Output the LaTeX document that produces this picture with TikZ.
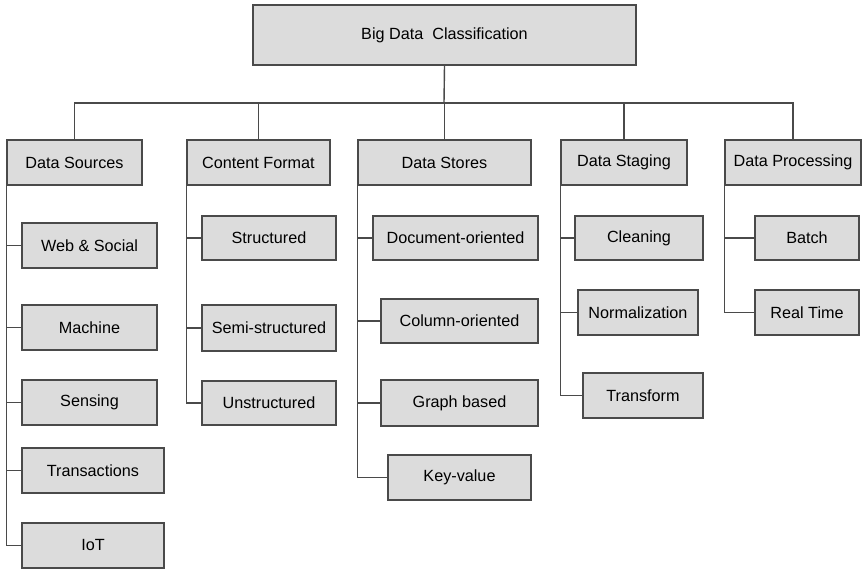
\documentclass[tikz,border=0pt]{standalone}
\usepackage{fontspec}
\setmainfont{Liberation Sans}
\usetikzlibrary{shadows}
\definecolor{boxfill}{HTML}{DCDCDC}
\definecolor{linec}{HTML}{4A4A4A}
\tikzset{
  bx/.style={draw=linec, line width=1.4pt, fill=boxfill, inner sep=0pt,
    font=\fontsize{16.2}{19}\selectfont, text=black,
    drop shadow={shadow xshift=1.2pt, shadow yshift=-1.2pt, fill=gray!55, opacity=0.8}},
  conn/.style={draw=linec, line width=1.4pt}
}
\newcommand{\bx}[6]{\node[bx, minimum width={(#4-#2)*1pt}, minimum height={(#5-#3)*1pt}]
  (#1) at ({(#2+#4)/2},{(#3+#5)/2}) {#6};}
\begin{document}
\begin{tikzpicture}[x=1pt,y=-1pt]
\useasboundingbox (0,0) rectangle (863,570);
\coordinate (b) at (444,103);
\bx{top}{253}{5}{636}{65}{Big Data\ \ Classification}
\bx{ds}{7}{140}{142}{185}{Data Sources}
\bx{cf}{187}{140}{330}{185}{Content Format}
\bx{dst}{358}{140}{531}{185}{Data Stores}
\bx{stg}{561}{140}{687}{185}{Data Staging}
\bx{dp}{725}{140}{861}{185}{Data Processing}
\draw[conn] (top.south) -- (b);
\draw[conn] (ds.north) |- (b);
\draw[conn] (cf.north) |- (b);
\draw[conn] (dst.north) |- (b);
\draw[conn] (stg.north) |- (b);
\draw[conn] (dp.north) |- (b);
% child boxes
\bx{web}{22}{223}{157}{268}{Web \& Social}
\bx{mach}{22}{305}{157}{350}{Machine}
\bx{sens}{22}{380}{157}{425}{Sensing}
\bx{trans}{22}{448}{164}{493}{Transactions}
\bx{iot}{22}{523}{164}{568}{IoT}
\bx{struct}{202}{216}{336}{260}{Structured}
\bx{semi}{202}{305}{336}{351}{Semi-structured}
\bx{unstr}{202}{381}{336}{425}{Unstructured}
\bx{doc}{373}{216}{538}{260}{Document-oriented}
\bx{col}{381}{299}{538}{343}{Column-oriented}
\bx{graph}{381}{380}{538}{426}{Graph based}
\bx{kv}{388}{455}{531}{500}{Key-value}
\bx{clean}{575}{216}{703}{260}{Cleaning}
\bx{norm}{578}{290}{698}{335}{Normalization}
\bx{trf}{583}{373}{703}{418}{Transform}
\bx{batch}{755}{216}{859}{260}{Batch}
\bx{rt}{755}{290}{859}{335}{Real Time}
% Data Sources children
\foreach \c in {web,mach,sens,trans,iot} \draw[conn] (ds.south west) |- (\c.west);
% Content Format children
\foreach \c in {struct,semi,unstr} \draw[conn] (cf.south west) |- (\c.west);
% Data Stores children
\foreach \c in {doc,col,graph,kv} \draw[conn] (dst.south west) |- (\c.west);
% Data Staging children
\foreach \c in {clean,norm,trf} \draw[conn] (stg.south west) |- (\c.west);
% Data Processing children
\foreach \c in {batch,rt} \draw[conn] (dp.south west) |- (\c.west);
\end{tikzpicture}
\end{document}
